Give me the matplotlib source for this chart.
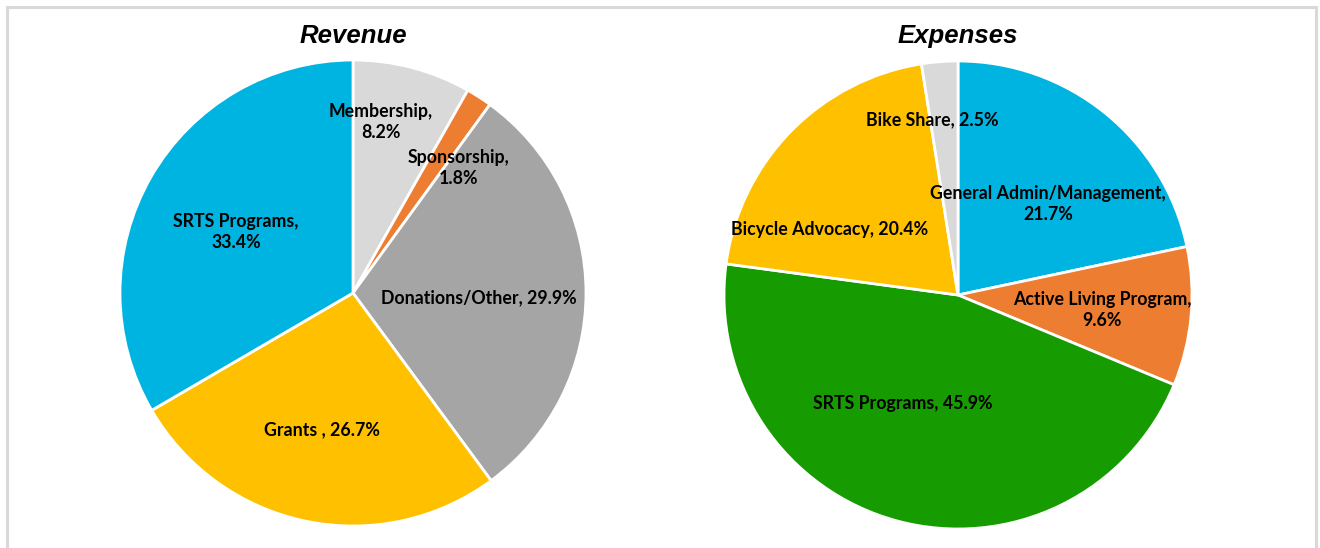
import matplotlib.pyplot as plt
from matplotlib.patches import Rectangle

# revenue data (clockwise from 12 o'clock)
rev_labels = ["Membership,\n8.2%", "Sponsorship,\n1.8%", "Donations/Other, 29.9%",
              "Grants , 26.7%", "SRTS Programs,\n33.4%"]
rev_values = [8.2, 1.8, 29.9, 26.7, 33.4]
rev_colors = ["#D9D9D9", "#ED7D31", "#A5A5A5", "#FFC000", "#00B4E1"]

# expenses data
exp_labels = ["General Admin/Management,\n21.7%", "Active Living Program,\n9.6%",
              "SRTS Programs, 45.9%", "Bicycle Advocacy, 20.4%", "Bike Share, 2.5%"]
exp_values = [21.7, 9.6, 45.9, 20.4, 2.5]
exp_colors = ["#00B4E1", "#ED7D31", "#169B00", "#FFC000", "#D9D9D9"]

# label placement (pie radius units)
rev_label_pos = [(0.12, 0.734), (0.455, 0.536), (0.541, -0.021), (-0.133, -0.588), (-0.502, 0.262)]
exp_label_pos = [(0.385, 0.389), (0.615, -0.064), (-0.235, -0.462), (-0.547, 0.278), (-0.111, 0.748)]


def draw_pie(ax, values, colors, labels, label_pos, title):
    ax.pie(values, colors=colors, startangle=90, counterclock=False, radius=1,
           wedgeprops=dict(edgecolor="white", linewidth=2))
    for (x, y), lab in zip(label_pos, labels):
        ax.text(x, y, lab, ha="center", va="center", fontsize=12.8,
                fontfamily="Lato", fontweight="bold", color="black", linespacing=1.25)
    ax.set_xlim(-1, 1)
    ax.set_ylim(-1, 1)
    ax.set_aspect("equal")
    ax.axis("off")
    ax.text(0, 1.105, title, ha="center", va="center", fontsize=18.5,
            fontfamily="Liberation Sans", fontweight="bold", fontstyle="italic")


fig = plt.figure(figsize=(13.2, 5.48), dpi=100)
fig.patches.append(Rectangle((7 / 1320, -0.1), 1309 / 1320, 1.1 - 7 / 548,
                             transform=fig.transFigure, fill=False,
                             edgecolor="#D9D9D9", linewidth=2.2))

ax1 = fig.add_axes([120 / 1320, 22 / 548, 466 / 1320, 466 / 548])
draw_pie(ax1, rev_values, rev_colors, rev_labels, rev_label_pos, "Revenue")

ax2 = fig.add_axes([724 / 1320, 19 / 548, 468 / 1320, 468 / 548])
draw_pie(ax2, exp_values, exp_colors, exp_labels, exp_label_pos, "Expenses")

fig.savefig("out.png", dpi=100)
